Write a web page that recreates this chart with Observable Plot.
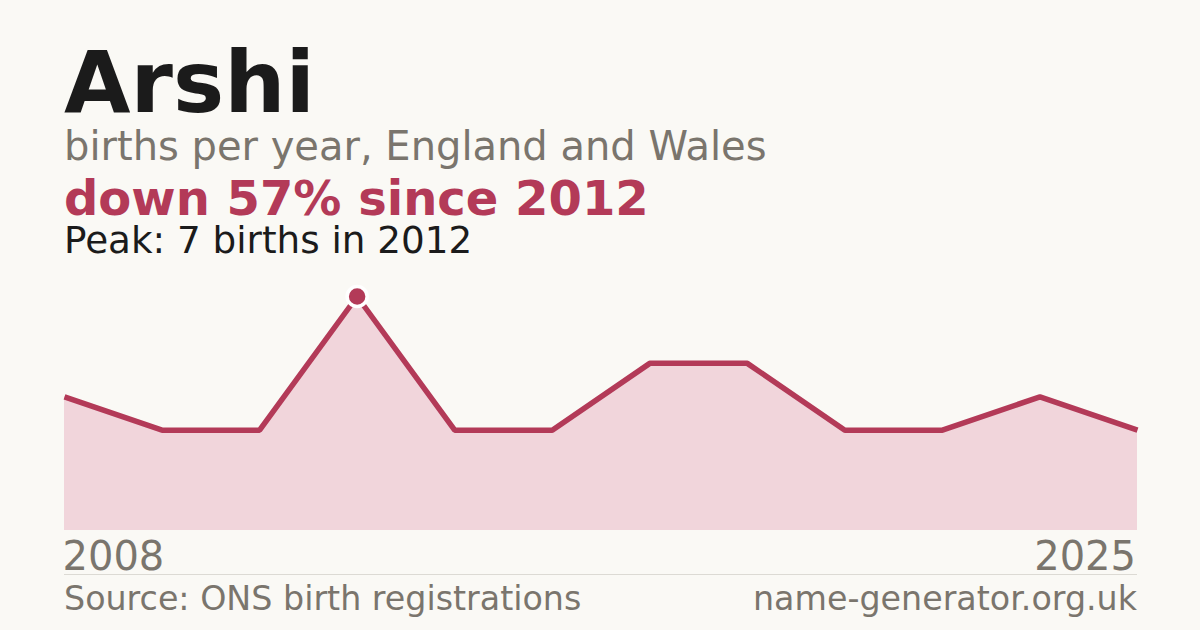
<!DOCTYPE html>
<html>
<head>
<meta charset="utf-8">
<script src="https://cdn.jsdelivr.net/npm/d3@7"></script>
<script src="https://cdn.jsdelivr.net/npm/@observablehq/plot@0.6"></script>
<style>
  html, body { margin: 0; padding: 0; background: #faf9f5; }
  #wrap { position: relative; width: 1200px; height: 630px; overflow: hidden; background: #faf9f5; font-family: "DejaVu Sans", sans-serif; }
  .t { position: absolute; left: 64px; white-space: nowrap; }
  #chart { position: absolute; left: 0; top: 270px; }
</style>
</head>
<body>
<div id="wrap">
  <div class="t" style="top:39px;font-size:86px;line-height:86px;font-weight:bold;color:#1b1b1b;">Arshi</div>
  <div class="t" style="top:126px;font-size:40px;line-height:40px;color:#7a756d;">births per year, England and Wales</div>
  <div class="t" style="top:175px;font-size:48px;line-height:46px;font-weight:bold;color:#b33a58;">down 57% since 2012</div>
  <div class="t" style="top:222px;font-size:37.3px;line-height:36px;color:#1b1b1b;">Peak: 7 births in 2012</div>
  <div id="chart"></div>
  <div class="t" style="top:582px;font-size:33.3px;line-height:33px;color:#7a756d;">Source: ONS birth registrations</div>
  <div class="t" style="top:582px;left:auto;right:63px;font-size:33.3px;line-height:33px;color:#7a756d;">name-generator.org.uk</div>
</div>
<script>
const years = ["2008","2010","2011","2012","2014","2015","2016","2018","2019","2021","2023","2025"];
const births = [4, 3, 3, 7, 3, 3, 5, 5, 3, 3, 4, 3];
const peakYear = "2012";
const endLabels = [years[0], years[years.length - 1]];

const data = years.map((y, i) => ({i, year: y, births: births[i]}));
const peak = data.filter(d => d.year === peakYear);
const labels = endLabels.map(y => ({i: years.indexOf(y), year: y}));

const crimson = "#b33a58";
const chart = Plot.plot({
  width: 1200,
  height: 310,
  marginLeft: 64,
  marginRight: 63,
  marginTop: 26,
  marginBottom: 50,
  style: {background: "transparent", fontFamily: "DejaVu Sans, sans-serif", overflow: "visible"},
  x: {domain: [0, years.length - 1], axis: null},
  y: {domain: [0, 7], axis: null},
  marks: [
    Plot.areaY(data, {x: "i", y: "births", fill: "#f1d5db"}),
    Plot.lineY(data, {x: "i", y: "births", stroke: crimson, strokeWidth: 5.5, strokeLinejoin: "miter", strokeLinecap: "butt"}),
    Plot.dot(peak, {x: "i", y: "births", r: 10, fill: crimson, stroke: "#ffffff", strokeWidth: 3.5}),
    Plot.ruleY([0], {dy: 44, stroke: "#dcdad4", strokeWidth: 1}),
    Plot.text(labels.slice(0, 1), {x: "i", y: () => 0, text: "year", textAnchor: "start", fontSize: 40, fill: "#7a756d", dy: 27, dx: -2}),
    Plot.text(labels.slice(1), {x: "i", y: () => 0, text: "year", textAnchor: "end", fontSize: 40, fill: "#7a756d", dy: 27, dx: -1.5})
  ]
});
document.getElementById("chart").appendChild(chart);
</script>
</body>
</html>
